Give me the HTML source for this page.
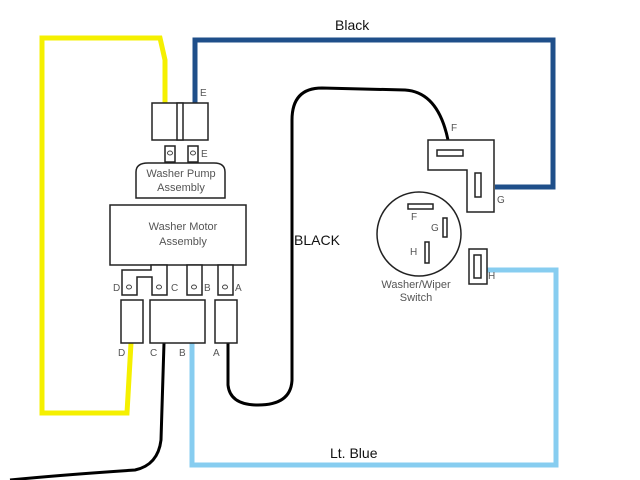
<!DOCTYPE html>
<html><head><meta charset="utf-8"><style>
html,body{margin:0;padding:0;background:#fff;}
svg{display:block;}
text{font-family:"Liberation Sans",sans-serif;fill:#555;}
</style></head><body>
<svg width="640" height="480" viewBox="0 0 640 480" xmlns="http://www.w3.org/2000/svg">
<rect width="640" height="480" fill="#fff"/>
<polyline points="165,103 165,60 160,38 42,38 42,413 127,413 131,343" fill="none" stroke="#f5f000" stroke-width="5"/>
<polyline points="195,103 195,40 553,40 553,187 495,187" fill="none" stroke="#1f4f8a" stroke-width="5"/>
<polyline points="192,343 192,465 556,465 556,270 487,270" fill="none" stroke="#87cdf0" stroke-width="5"/>
<path d="M228,343 L228,385 Q230,405 258,405 Q291,405 292,380 L292,120 Q292,88 322,88 L405,90 Q438,92 448,140" fill="none" stroke="#000" stroke-width="3"/>
<path d="M164,343 L161,440 Q158,465 135,470 Q60,475 10,480" fill="none" stroke="#000" stroke-width="3"/>
<g fill="#fff" stroke="#222" stroke-width="1.5">
<rect x="152" y="103" width="56" height="37"/>
<rect x="177" y="103" width="6" height="37"/>
<rect x="165" y="146" width="10" height="16"/>
<rect x="188" y="146" width="10" height="16"/>
<path d="M136,198 L136,172 Q136,163 148,163 L214,163 Q225,163 225,172 L225,198 Z"/>
<rect x="110" y="205" width="136" height="60"/>
<path d="M122,295 L122,270 L151,270 L151,265 L167,265 L167,295 L152,295 L152,277 L137,277 L137,295 Z"/>
<rect x="187" y="265" width="15" height="30"/>
<rect x="218" y="265" width="15" height="30"/>
<rect x="121" y="300" width="22" height="43"/>
<rect x="150" y="300" width="55" height="43"/>
<rect x="215" y="300" width="22" height="43"/>
<path d="M428,140 L494,140 L494,212 L467,212 L467,170 L428,170 Z"/>
<rect x="437" y="150" width="26" height="6"/>
<rect x="475" y="173" width="6" height="24"/>
<circle cx="419" cy="234" r="42"/>
<rect x="408" y="204" width="25" height="5"/>
<rect x="443" y="218" width="4" height="19"/>
<rect x="425" y="242" width="4" height="21"/>
<rect x="469" y="249" width="18" height="35"/>
<rect x="474" y="255" width="7" height="23"/>
</g>
<g fill="#fff" stroke="#444" stroke-width="1">
<ellipse cx="170" cy="153" rx="2.5" ry="2"/><ellipse cx="193" cy="153" rx="2.5" ry="2"/>
<ellipse cx="129" cy="287" rx="2.5" ry="2"/><ellipse cx="159" cy="287" rx="2.5" ry="2"/>
<ellipse cx="194" cy="287" rx="2.5" ry="2"/><ellipse cx="225" cy="287" rx="2.5" ry="2"/>
</g>
<g font-size="10">
<text x="200" y="96">E</text><text x="201" y="157">E</text>
<text x="113" y="291">D</text><text x="171" y="291">C</text><text x="204" y="291">B</text><text x="235" y="291">A</text>
<text x="118" y="356">D</text><text x="150" y="356">C</text><text x="179" y="356">B</text><text x="213" y="356">A</text>
<text x="451" y="131">F</text><text x="497" y="203">G</text>
<text x="411" y="220">F</text><text x="431" y="231">G</text><text x="410" y="255">H</text><text x="488" y="279">H</text>
</g>
<g font-size="11" text-anchor="middle">
<text x="181" y="177">Washer Pump</text><text x="181" y="191">Assembly</text>
<text x="183" y="230">Washer Motor</text><text x="183" y="245">Assembly</text>
<text x="416" y="288">Washer/Wiper</text><text x="416" y="301">Switch</text>
</g>
<g font-size="14">
<text x="335" y="30" style="fill:#111">Black</text>
<text x="294" y="245" style="fill:#111">BLACK</text>
<text x="330" y="458" style="fill:#111">Lt. Blue</text>
</g>
</svg>
</body></html>
